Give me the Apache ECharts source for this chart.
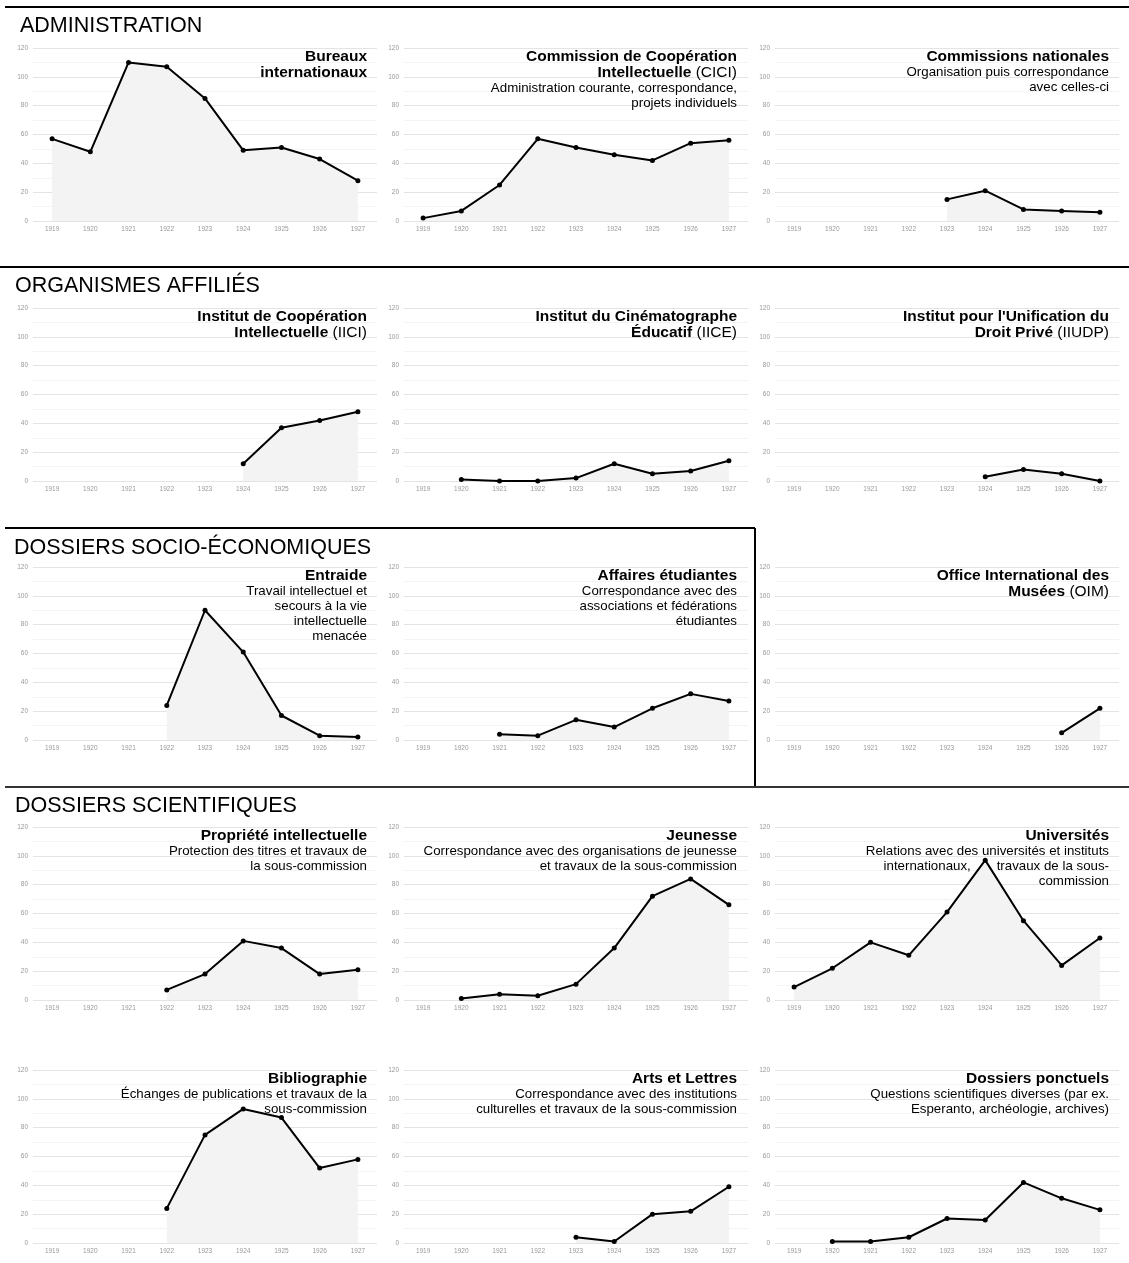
<!DOCTYPE html>
<html>
<head>
<meta charset="utf-8">
<script src="https://cdn.jsdelivr.net/npm/echarts@6/dist/echarts.min.js"></script>
<style>
  html, body { margin: 0; padding: 0; background: #fff; }
  #main { width: 1129px; height: 1263px; }
</style>
</head>
<body>
<div id="main"></div>
<script>
// years on the x axis
const years = ['1919', '1920', '1921', '1922', '1923', '1924', '1925', '1926', '1927'];
const yTicks = [0, 20, 40, 60, 80, 100, 120];

// ADMINISTRATION
const bureaux = [57, 48, 110, 107, 85, 49, 51, 43, 28];
const cici = [2, 7, 25, 57, 51, 46, 42, 54, 56];
const commissions = [null, null, null, null, 15, 21, 8, 7, 6];
// ORGANISMES AFFILIÉS
const iici = [null, null, null, null, null, 12, 37, 42, 48];
const iice = [null, 1, 0, 0, 2, 12, 5, 7, 14];
const iiudp = [null, null, null, null, null, 3, 8, 5, 0];
// DOSSIERS SOCIO-ÉCONOMIQUES
const entraide = [null, null, null, 24, 90, 61, 17, 3, 2];
const etudiants = [null, null, 4, 3, 14, 9, 22, 32, 27];
const oim = [null, null, null, null, null, null, null, 5, 22];
// DOSSIERS SCIENTIFIQUES
const propriete = [null, null, null, 7, 18, 41, 36, 18, 21];
const jeunesse = [null, 1, 4, 3, 11, 36, 72, 84, 66];
const universites = [9, 22, 40, 31, 61, 97, 55, 24, 43];
const bibliographie = [null, null, null, 24, 75, 93, 87, 52, 58];
const artsLettres = [null, null, null, null, 4, 1, 20, 22, 39];
const ponctuels = [null, 1, 1, 4, 17, 16, 42, 31, 23];

const panels = [
    {data: bureaux, row: 0, col: 0, text: '{b|Bureaux}\n{b|internationaux}'},
    {data: cici, row: 0, col: 1, text: '{b|Commission de Coopération}\n{b|Intellectuelle}{n| (CICI)}\n{s|Administration courante, correspondance,}\n{s|projets individuels}'},
    {data: commissions, row: 0, col: 2, text: '{b|Commissions nationales}\n{s|Organisation puis correspondance}\n{s|avec celles-ci}'},
    {data: iici, row: 1, col: 0, text: '{b|Institut de Coopération}\n{b|Intellectuelle}{n| (IICI)}'},
    {data: iice, row: 1, col: 1, text: '{b|Institut du Cinématographe}\n{b|Éducatif}{n| (IICE)}'},
    {data: iiudp, row: 1, col: 2, text: '{b|Institut pour l\'Unification du}\n{b|Droit Privé}{n| (IIUDP)}'},
    {data: entraide, row: 2, col: 0, text: '{b|Entraide}\n{s|Travail intellectuel et}\n{s|secours à la vie}\n{s|intellectuelle}\n{s|menacée}'},
    {data: etudiants, row: 2, col: 1, text: '{b|Affaires étudiantes}\n{s|Correspondance avec des}\n{s|associations et fédérations}\n{s|étudiantes}'},
    {data: oim, row: 2, col: 2, text: '{b|Office International des}\n{b|Musées}{n| (OIM)}'},
    {data: propriete, row: 3, col: 0, text: '{b|Propriété intellectuelle}\n{s|Protection des titres et travaux de}\n{s|la sous-commission}'},
    {data: jeunesse, row: 3, col: 1, text: '{b|Jeunesse}\n{s|Correspondance avec des organisations de jeunesse}\n{s|et travaux de la sous-commission}'},
    {data: universites, row: 3, col: 2, text: '{b|Universités}\n{s|Relations avec des universités et instituts}\n{s|internationaux,       travaux de la sous-}\n{s|commission}'},
    {data: bibliographie, row: 4, col: 0, text: '{b|Bibliographie}\n{s|Échanges de publications et travaux de la}\n{s|sous-commission}'},
    {data: artsLettres, row: 4, col: 1, text: '{b|Arts et Lettres}\n{s|Correspondance avec des institutions}\n{s|culturelles et travaux de la sous-commission}'},
    {data: ponctuels, row: 4, col: 2, text: '{b|Dossiers ponctuels}\n{s|Questions scientifiques diverses (par ex.}\n{s|Esperanto, archéologie, archives)}'}
];

const W = 1129;
const rowTop = [48, 308, 567, 827, 1070];
const colLeft = [33, 404, 775];
const titleRight = [367, 737, 1109];
const plotW = 344, plotH = 173;
const font = '"Liberation Sans", Arial, Helvetica, sans-serif';

const grid = [], xAxis = [], yAxis = [], series = [], graphic = [];

const rich = {
    b: {fontFamily: font, fontWeight: 'bold', fontSize: 15.5, lineHeight: 16, fill: '#000'},
    n: {fontFamily: font, fontWeight: 'normal', fontSize: 15.5, lineHeight: 16, fill: '#000'},
    s: {fontFamily: font, fontWeight: 'normal', fontSize: 13.3, lineHeight: 15, fill: '#000'}
};

panels.forEach((p, i) => {
    grid.push({left: colLeft[p.col], top: rowTop[p.row], width: plotW, height: plotH});
    xAxis.push({
        type: 'category', gridIndex: i, data: years, boundaryGap: true,
        axisLine: {show: false}, axisTick: {show: false},
        axisLabel: {color: '#999', fontSize: 6.5, margin: 5, fontFamily: font, interval: 0}
    });
    yAxis.push({
        type: 'value', gridIndex: i, min: yTicks[0], max: yTicks[yTicks.length - 1], interval: 20,
        axisLine: {show: false}, axisTick: {show: false},
        axisLabel: {color: '#999', fontSize: 6.5, margin: 5, fontFamily: font},
        splitLine: {lineStyle: {color: '#e4e4e4', width: 1}},
        minorTick: {show: false, splitNumber: 2},
        minorSplitLine: {show: true, lineStyle: {color: '#f3f3f3', width: 1}}
    });
    series.push({
        type: 'line', xAxisIndex: i, yAxisIndex: i, data: p.data,
        symbol: 'circle', symbolSize: 5, showSymbol: true,
        lineStyle: {color: '#000', width: 2},
        itemStyle: {color: '#000'},
        areaStyle: {color: '#f3f3f3', opacity: 1},
        emphasis: {disabled: true},
        z: 3
    });
    // panel title, right aligned in the top right corner
    graphic.push({
        type: 'text',
        x: titleRight[p.col],
        y: rowTop[p.row] + 0.5,
        z: 20,
        style: {text: p.text, rich: rich, align: 'right', verticalAlign: 'top', fill: '#000'}
    });
});

function hLine(x1, x2, y, color) {
    return {type: 'line', shape: {x1: x1, y1: y, x2: x2, y2: y}, style: {stroke: color || '#000', lineWidth: 2}, z: 10};
}
function header(text, x, y) {
    return {type: 'text', x: x, y: y, style: {text: text, font: '21.5px ' + font, fill: '#000', verticalAlign: 'middle'}, z: 10};
}

graphic.push(
    hLine(5, W, 7),
    header('ADMINISTRATION', 20, 26),
    hLine(0, W, 267),
    header('ORGANISMES AFFILIÉS', 15, 286),
    hLine(5, 755, 528),
    {type: 'line', shape: {x1: 755, y1: 528, x2: 755, y2: 787}, style: {stroke: '#000', lineWidth: 2}, z: 10},
    header('DOSSIERS SOCIO-ÉCONOMIQUES', 14, 548),
    hLine(5, W, 787, '#333'),
    header('DOSSIERS SCIENTIFIQUES', 15, 806)
);

const chart = echarts.init(document.getElementById('main'));
chart.setOption({
    animation: false,
    backgroundColor: '#fff',
    grid: grid,
    xAxis: xAxis,
    yAxis: yAxis,
    series: series,
    graphic: graphic
});
</script>
</body>
</html>
